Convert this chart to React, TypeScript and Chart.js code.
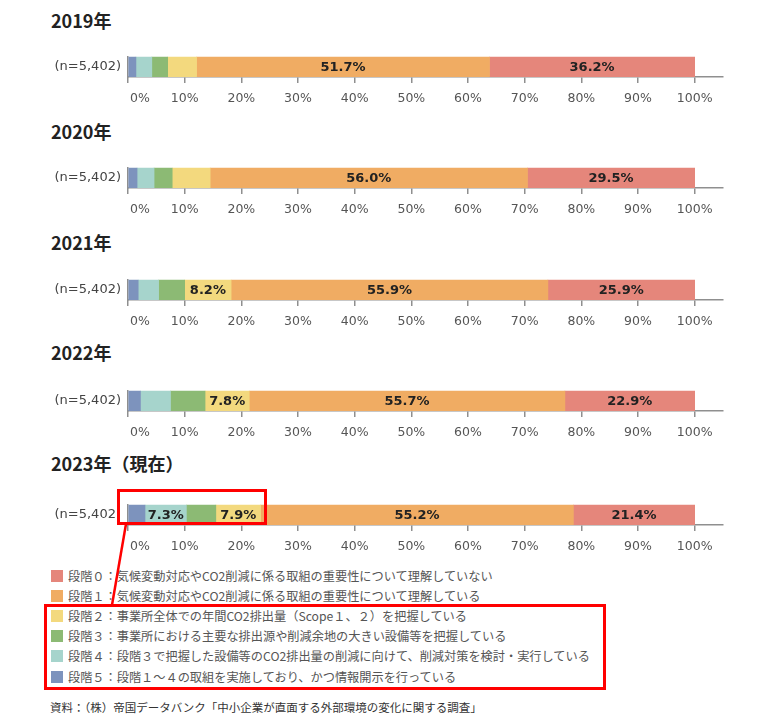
import React, { useEffect, useRef } from "react";
import { Chart, registerables } from "chart.js";

Chart.register(...registerables);

// ---- data ----
const years = ["2019年", "2020年", "2021年", "2022年", "2023年（現在）"];
const sampleLabel = "(n=5,402)";
const stage5 = [1.4, 1.6, 1.8, 2.2, 3.0];
const stage4 = [2.8, 3.0, 3.6, 5.3, 7.3];
const stage3 = [2.8, 3.2, 4.6, 6.1, 5.2];
const stage2 = [5.1, 6.7, 8.2, 7.8, 7.9];
const stage1 = [51.7, 56.0, 55.9, 55.7, 55.2];
const stage0 = [36.2, 29.5, 25.9, 22.9, 21.4];
const xTicks = [0, 10, 20, 30, 40, 50, 60, 70, 80, 90, 100];

const legendLabels = [
  "段階０：気候変動対応やCO2削減に係る取組の重要性について理解していない",
  "段階１：気候変動対応やCO2削減に係る取組の重要性について理解している",
  "段階２：事業所全体での年間CO2排出量（Scope１、２）を把握している",
  "段階３：事業所における主要な排出源や削減余地の大きい設備等を把握している",
  "段階４：段階３で把握した設備等のCO2排出量の削減に向けて、削減対策を検討・実行している",
  "段階５：段階１～４の取組を実施しており、かつ情報開示を行っている",
];
const sourceText = "資料：（株）帝国データバンク「中小企業が直面する外部環境の変化に関する調査」";

// ---- styles ----
const colors = {
  s0: "#e5867b",
  s1: "#f0ac63",
  s2: "#f3d97e",
  s3: "#8cba74",
  s4: "#a6d4cc",
  s5: "#7d93bd",
};
const legendColors = [colors.s0, colors.s1, colors.s2, colors.s3, colors.s4, colors.s5];

const barTops = [47, 158, 270, 381, 495];
const titleCenters = [20, 131, 242, 352, 463];
const legendCenters = [576, 596, 616, 636, 656, 677];

const valueLabelPlugin = {
  id: "valueLabels",
  afterDatasetsDraw(chart: any) {
    const ctx = chart.ctx;
    ctx.save();
    ctx.font = "bold 13px 'DejaVu Sans', sans-serif";
    ctx.fillStyle = "#222";
    ctx.textAlign = "center";
    ctx.textBaseline = "middle";
    chart.data.datasets.forEach((ds: any, di: number) => {
      const meta = chart.getDatasetMeta(di);
      meta.data.forEach((bar: any, i: number) => {
        const v = ds.data[i];
        if (v >= 7) {
          const cx = (bar.x + bar.base) / 2;
          ctx.fillText(v.toFixed(1) + "%", cx, bar.y + 1);
        }
      });
    });
    ctx.restore();
  },
};

function YearChart({ idx }: { idx: number }) {
  const ref = useRef<HTMLCanvasElement>(null);
  useEffect(() => {
    if (!ref.current) return;
    const mk = (label: string, arr: number[], color: string) => ({
      label,
      data: [arr[idx]],
      backgroundColor: color,
      borderWidth: 0,
      barThickness: 27,
    });
    const chart = new Chart(ref.current, {
      type: "bar",
      data: {
        labels: [sampleLabel],
        datasets: [
          mk("段階5", stage5, colors.s5),
          mk("段階4", stage4, colors.s4),
          mk("段階3", stage3, colors.s3),
          mk("段階2", stage2, colors.s2),
          mk("段階1", stage1, colors.s1),
          mk("段階0", stage0, colors.s0),
        ],
      },
      options: {
        indexAxis: "y",
        animation: false,
        responsive: false,
        maintainAspectRatio: false,
        layout: { padding: { top: 3, right: 59, left: 0, bottom: 0 } },
        plugins: { legend: { display: false }, tooltip: { enabled: false } },
        scales: {
          x: {
            stacked: true,
            min: 0,
            max: 105,
            afterBuildTicks: (s: any) => {
              s.ticks = xTicks.map((v) => ({ value: v }));
            },
            afterFit: (s: any) => {
              s.height = 40;
            },
            ticks: {
              callback: (v: any) => (v === 0 ? "\u2007\u2007\u20070%" : v + "%"),
              color: "#555",
              font: { family: "'DejaVu Sans', sans-serif", size: 12.5 },
              padding: 8,
              maxRotation: 0,
              autoSkip: false,
            },
            grid: {
              drawOnChartArea: false,
              drawTicks: true,
              tickLength: 6,
              color: "#8f8f8f",
              lineWidth: 1.5,
            },
            border: { display: true, color: "#8f8f8f", width: 1.5 },
          },
          y: {
            stacked: true,
            afterFit: (s: any) => {
              s.width = 128;
            },
            ticks: {
              color: "#444",
              font: { family: "'DejaVu Sans', sans-serif", size: 13 },
              padding: 7,
            },
            grid: { display: false, drawTicks: false },
            border: { display: true, color: "#8f8f8f", width: 1.5 },
          },
        },
      },
      plugins: [valueLabelPlugin],
    } as any);
    return () => chart.destroy();
  }, [idx]);
  return (
    <canvas
      ref={ref}
      width={782}
      height={75}
      style={{ position: "absolute", left: 0, top: barTops[idx] - 5.5, width: 782, height: 75 }}
    />
  );
}

export default function App() {
  return (
    <div
      style={{
        position: "absolute",
        left: 0,
        top: 0,
        width: 782,
        height: 725,
        background: "#fff",
        overflow: "hidden",
        fontFamily: "'Noto Sans CJK JP', sans-serif",
      }}
    >
      {years.map((y, i) => (
        <div
          key={y}
          style={{
            position: "absolute",
            left: 51,
            top: titleCenters[i] - 12,
            height: 24,
            lineHeight: "24px",
            fontSize: 18,
            fontWeight: "bold",
            color: "#222",
            whiteSpace: "nowrap",
          }}
        >
          {y}
        </div>
      ))}
      {years.map((y, i) => (
        <YearChart key={"c" + i} idx={i} />
      ))}
      {legendLabels.map((t, i) => (
        <div
          key={t}
          style={{
            position: "absolute",
            left: 51,
            top: legendCenters[i] - 9,
            height: 18,
            display: "flex",
            alignItems: "center",
            whiteSpace: "nowrap",
          }}
        >
          <span
            style={{
              display: "inline-block",
              width: 12,
              height: 12,
              background: legendColors[i],
              marginRight: 5,
            }}
          />
          <span style={{ fontSize: 12.2, color: "#555", lineHeight: "18px" }}>{t}</span>
        </div>
      ))}
      <div
        style={{
          position: "absolute",
          left: 50,
          top: 698,
          height: 18,
          lineHeight: "18px",
          fontSize: 11.5,
          color: "#333",
          whiteSpace: "nowrap",
        }}
      >
        {sourceText}
      </div>
      {/* highlight boxes */}
      <div
        style={{
          position: "absolute",
          left: 117,
          top: 489,
          width: 150,
          height: 36,
          boxSizing: "border-box",
          border: "3px solid #ff0000",
        }}
      />
      <div
        style={{
          position: "absolute",
          left: 44,
          top: 604,
          width: 562,
          height: 86,
          boxSizing: "border-box",
          border: "3px solid #ff0000",
        }}
      />
      <svg
        width={782}
        height={725}
        style={{ position: "absolute", left: 0, top: 0, pointerEvents: "none" }}
      >
        <line x1={126} y1={524} x2={112} y2={605} stroke="#ff0000" strokeWidth={2.5} />
      </svg>
    </div>
  );
}
